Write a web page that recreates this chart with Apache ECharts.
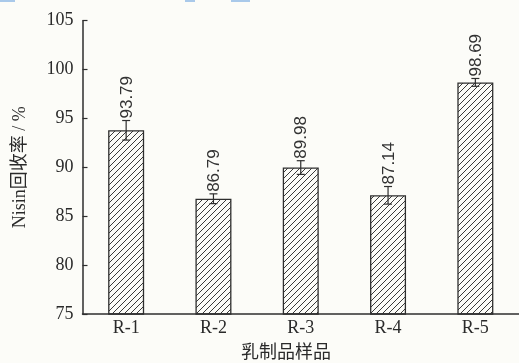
<!DOCTYPE html>
<html>
<head>
<meta charset="utf-8">
<style>
  html, body { margin: 0; padding: 0; background: #fcfcf8; }
  #chart { width: 519px; height: 363px; }
</style>
<script src="https://cdn.jsdelivr.net/npm/echarts@6/dist/echarts.min.js"></script>
</head>
<body>
<div id="chart"></div>
<script>
// Nisin recovery for each dairy sample
const categories = ['R-1', 'R-2', 'R-3', 'R-4', 'R-5'];
const recovery = [93.79, 86.79, 89.98, 87.14, 98.69];
const errors = [1.0, 0.5, 0.7, 0.9, 0.4];
const yTicks = [75, 80, 85, 90, 95, 100, 105];

// diagonal hatch tile for the bars
function hatchPattern(size, color) {
  const c = document.createElement('canvas');
  c.width = size; c.height = size;
  const g = c.getContext('2d');
  g.strokeStyle = color;
  g.lineWidth = 1;
  g.beginPath();
  g.moveTo(0, size); g.lineTo(size, 0);
  g.moveTo(-1, 1); g.lineTo(1, -1);
  g.moveTo(size - 1, size + 1); g.lineTo(size + 1, size - 1);
  g.stroke();
  return c;
}

const ink = '#2e2e2e';
const chart = echarts.init(document.getElementById('chart'));

chart.setOption({
  backgroundColor: '#fcfcf8',
  animation: false,
  grid: { left: 82.5, top: 20.7, width: 447.5, bottom: 49 },
  xAxis: {
    type: 'category',
    data: categories,
    axisLine: { lineStyle: { color: ink, width: 1.5 } },
    axisTick: { show: false },
    axisLabel: { color: '#2a2a2a', fontFamily: 'Liberation Serif', fontSize: 18, margin: 5 }
  },
  yAxis: {
    type: 'value',
    min: yTicks[0],
    max: yTicks[yTicks.length - 1],
    interval: 5,
    splitLine: { show: false },
    axisLine: { show: true, lineStyle: { color: ink, width: 1.5 } },
    axisTick: { show: true, inside: true, length: 5, lineStyle: { color: ink, width: 1.2 } },
    axisLabel: { color: '#2a2a2a', fontFamily: 'Liberation Serif', fontSize: 18, margin: 9 },
    name: 'Nisin回收率 / %',
    nameLocation: 'middle',
    nameGap: 53,
    nameTextStyle: { color: '#2a2a2a', fontFamily: 'Liberation Serif, Noto Sans CJK SC', fontSize: 18 }
  },
  series: [
    {
      type: 'bar',
      data: recovery,
      barWidth: 36,
      itemStyle: {
        color: { image: hatchPattern(6, '#3a3a3a'), repeat: 'repeat' },
        borderColor: ink,
        borderWidth: 1.3
      },
      z: 2
    },
    {
      type: 'custom',
      z: 3,
      data: recovery.map((v, i) => [i, v, errors[i]]),
      renderItem: function (params, api) {
        const x = api.coord([api.value(0), api.value(1)])[0];
        const hi = api.coord([api.value(0), api.value(1) + api.value(2)])[1];
        const lo = api.coord([api.value(0), api.value(1) - api.value(2)])[1];
        const cap = 4;
        const ls = { stroke: ink, lineWidth: 1.2 };
        return {
          type: 'group',
          children: [
            { type: 'line', shape: { x1: x, y1: hi, x2: x, y2: lo }, style: ls },
            { type: 'line', shape: { x1: x - cap, y1: hi, x2: x + cap, y2: hi }, style: ls },
            { type: 'line', shape: { x1: x - cap, y1: lo, x2: x + cap, y2: lo }, style: ls },
            {
              type: 'text',
              x: x + 1,
              y: hi - 2,
              rotation: Math.PI / 2,
              style: {
                text: api.value(1).toFixed(2),
                fill: '#333',
                font: '17px "Liberation Sans"',
                align: 'left',
                verticalAlign: 'middle'
              }
            }
          ]
        };
      }
    }
  ],
  graphic: [
    {
      type: 'text',
      left: 286 - 45,
      top: 342,
      style: { text: '乳制品样品', fill: '#2a2a2a', font: '18px "Noto Sans CJK SC"' }
    },
    { type: 'rect', shape: { x: 0, y: 0, width: 15, height: 2 }, style: { fill: '#a9c9ea' } },
    { type: 'rect', shape: { x: 185, y: 0, width: 10, height: 2 }, style: { fill: '#a9c9ea' } },
    { type: 'rect', shape: { x: 231, y: 0, width: 19, height: 2 }, style: { fill: '#a9c9ea' } }
  ]
});
</script>
</body>
</html>
